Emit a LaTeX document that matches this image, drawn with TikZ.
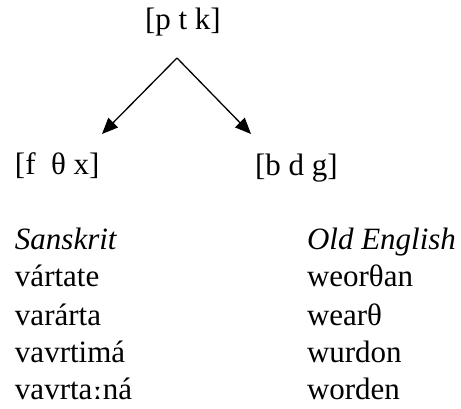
\documentclass[tikz,border=0pt]{standalone}
\usepackage{fontspec}
\setmainfont{Liberation Serif}
\newfontfamily\ipafont{DejaVu Serif}
\usetikzlibrary{arrows.meta}
\begin{document}
\begin{tikzpicture}[x=1pt,y=-1pt,
  txt/.style={anchor=base west,inner sep=0pt,outer sep=0pt,font=\fontsize{31}{37}\selectfont},
  itxt/.style={txt,font=\fontsize{31}{37}\selectfont\itshape},
  arr/.style={-{Triangle[length=16pt,width=13.5pt]},line width=1.3pt}]
\useasboundingbox (0,0) rectangle (461,409);
\node[txt] (ptk) at (145,30) {[p t k]};
\coordinate (apex) at (177,58);
\coordinate (ltip) at (102,134);
\coordinate (rtip) at (251,134);
\node[txt] (ftx) at (15,175) {[f\ \ θ x]};
\node[txt] (bdg) at (255,176) {[b d g]};
\draw[arr] (apex) -- (ltip);
\draw[arr] (apex) -- (rtip);
\node[itxt] (skr) at (15,250) {Sanskrit};
\node[itxt] (oe) at (307,250) {Old English};
\node[txt] (s1) at (15,287) {vártate};
\node[txt] (s2) at (15,325) {varárta};
\node[txt] (s3) at (15,362) {vavrtimá};
\node[txt] (s4) at (15,399) {vavrta{\ipafont\bfseries\fontsize{28}{37}\selectfont ː}ná};
\node[txt] (e1) at (307,287) {weorθan};
\node[txt] (e2) at (307,325) {wearθ};
\node[txt] (e3) at (307,362) {wurdon};
\node[txt] (e4) at (307,399) {worden};
\end{tikzpicture}
\end{document}
